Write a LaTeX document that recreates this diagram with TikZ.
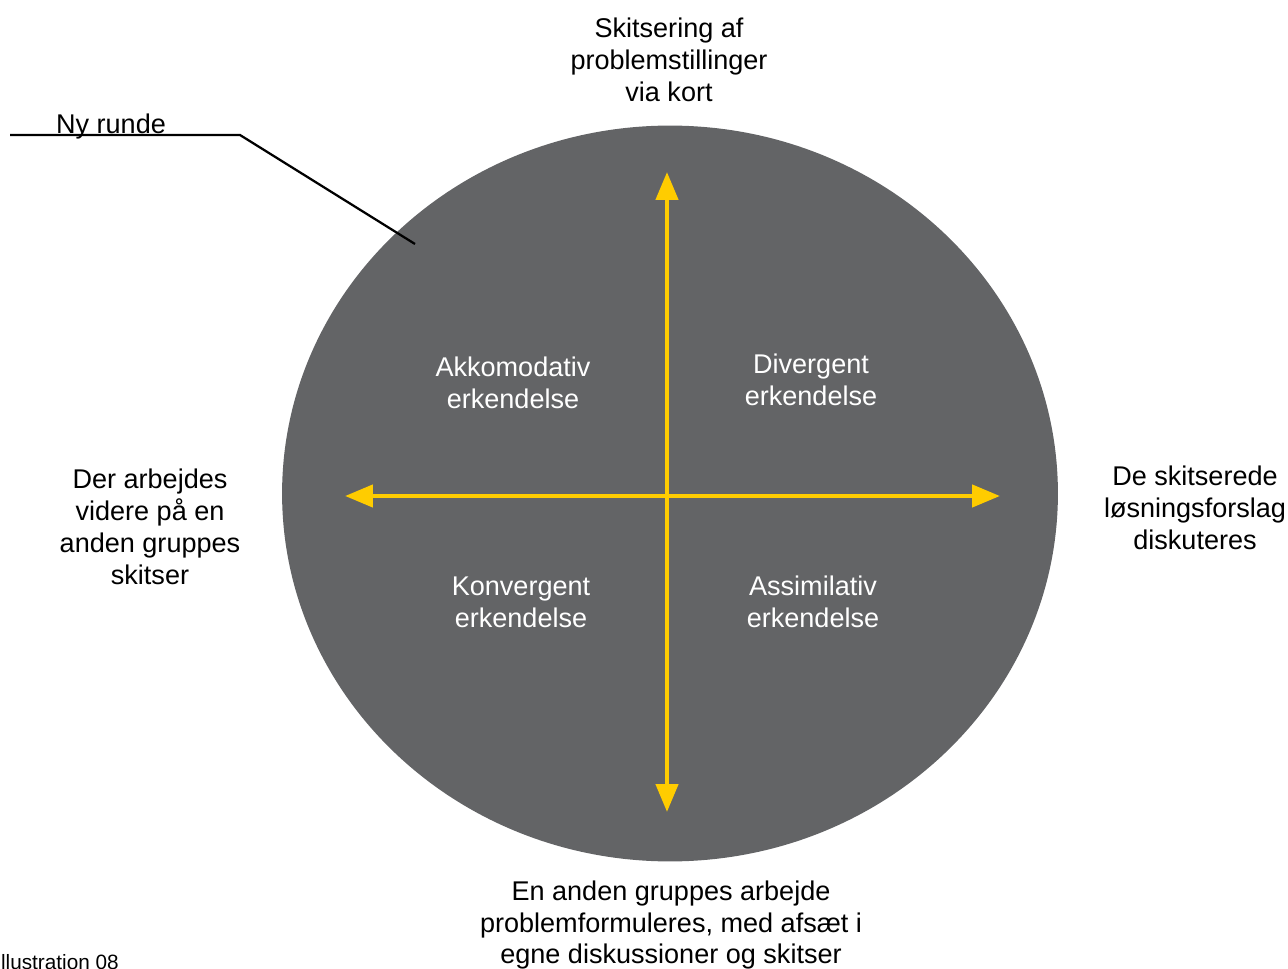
\documentclass[tikz,border=0pt]{standalone}
\usepackage{fontspec}
\setmainfont{Liberation Sans}
\usetikzlibrary{arrows.meta}
\definecolor{discgray}{RGB}{99,100,102}
\definecolor{axisyellow}{RGB}{255,204,0}
\tikzset{
  lbl/.style={align=center, inner sep=0pt, font=\fontsize{15.4}{18.2}\selectfont},
  quad/.style={lbl, text=white},
  axis/.style={draw=axisyellow, line width=0.09cm, {Triangle[length=0.56cm, width=0.44cm]}-{Triangle[length=0.56cm, width=0.44cm]}, fill=axisyellow}
}
\begin{document}
\begin{tikzpicture}[x=0.02cm, y=-0.02cm]
\useasboundingbox (0,0) rectangle (1288,969);
\fill[discgray] (670,493.5) ellipse [x radius=7.76cm, y radius=7.36cm];
\coordinate (top) at (667,172);
\coordinate (bot) at (667,812);
\coordinate (lft) at (345,496);
\coordinate (rgt) at (1000,496);
\draw[axis] (top) -- (bot);
\draw[axis] (lft) -- (rgt);
\node[lbl] (skits) at (669,60) {Skitsering af\\problemstillinger\\via kort};
\node[lbl] (loes) at (1195,508) {De skitserede\\løsningsforslag\\diskuteres};
\node[lbl] (grp) at (671,925) {En anden gruppes arbejde\\problemformuleres, med afsæt i\\egne diskussioner og skitser};
\node[lbl] (vid) at (150,527) {Der arbejdes\\videre på en\\anden gruppes\\skitser};
\node[quad] (akk) at (513,383) {Akkomodativ\\erkendelse};
\node[quad] (div) at (811,380) {Divergent\\erkendelse};
\node[quad] (kon) at (521,602) {Konvergent\\erkendelse};
\node[quad] (ass) at (813,602) {Assimilativ\\erkendelse};
\node[lbl, anchor=base] (ny) at (111,134) {Ny runde};
\coordinate (nya) at (10,135);
\coordinate (nyb) at (240,135);
\coordinate (nyc) at (415,244);
\draw[line width=0.045cm] (nya) -- (nyb) -- (nyc);
\node[anchor=base west, inner sep=0pt, font=\fontsize{11.8}{13}\selectfont] (ill) at (-5,969) {Illustration 08};
\end{tikzpicture}
\end{document}
